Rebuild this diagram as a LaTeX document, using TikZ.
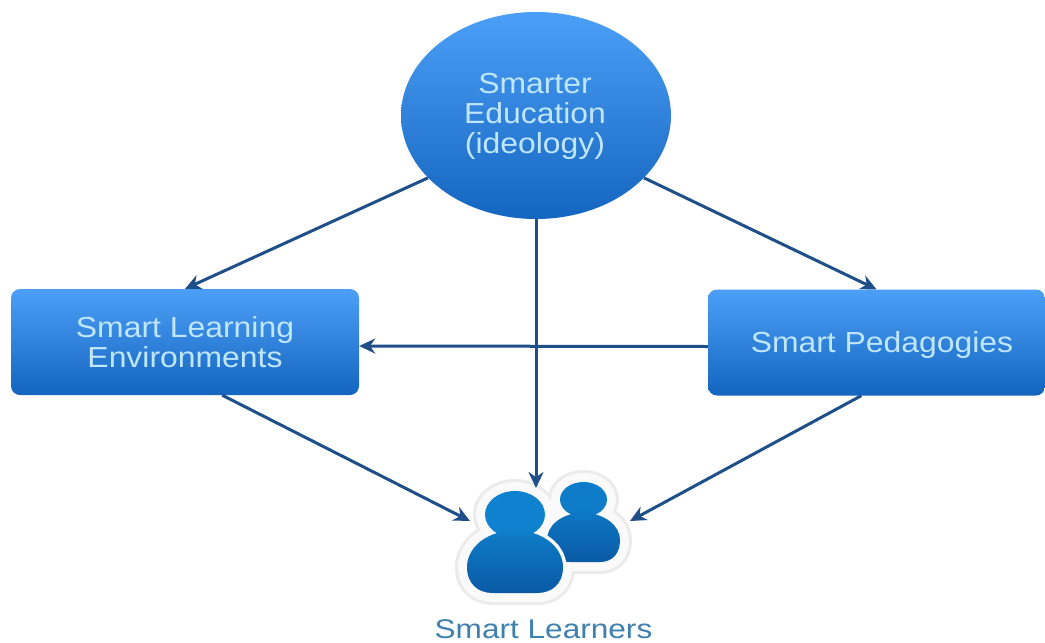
\documentclass[tikz,border=0pt]{standalone}
\usepackage{fontspec}
\setmainfont{Liberation Sans}
\newfontfamily\widefont[FakeStretch=1.10]{Liberation Sans}
\newfontfamily\widerfont[FakeStretch=1.17]{Liberation Sans}
\usetikzlibrary{arrows.meta,shapes.geometric,calc}
\definecolor{topblue}{HTML}{4C9FF6}
\definecolor{botblue}{HTML}{1465BF}
\definecolor{txtlight}{HTML}{BFE6FA}
\definecolor{arrowblue}{HTML}{1F4F88}
\definecolor{haloedge}{HTML}{EBEBEB}
\definecolor{haloin}{HTML}{FAFAFA}
\definecolor{personA}{HTML}{0E82CE}
\definecolor{personB}{HTML}{0B5AA5}
\definecolor{labelblue}{HTML}{3E80AE}
\tikzset{
  blueshape/.style={top color=topblue,bottom color=botblue,draw=none,align=center,text=txtlight,inner sep=0pt,
    font=\widefont\fontsize{29}{30}\selectfont},
  boxshape/.style={blueshape,rectangle,rounded corners=9pt,minimum height=106pt},
  link/.style={draw=arrowblue,line width=3pt,-{Stealth[length=16pt,width=15pt]}},
}
\newcommand{\frontpath}{(515,530) .. controls (480,532) and (467,552) .. (467,567) .. controls (467,584) and (478,593) .. (493,593) -- (537,593) .. controls (552,593) and (563,584) .. (563,567) .. controls (563,552) and (550,532) .. (515,530) -- cycle}
\newcommand{\backpath}{(583,512) .. controls (560,514) and (547,526) .. (547,540) .. controls (547,554) and (558,562) .. (570,562) -- (600,562) .. controls (612,562) and (620,554) .. (620,540) .. controls (620,526) and (606,514) .. (583,512) -- cycle}
\newcommand{\fronthead}{(515,514.5) ellipse [x radius=30,y radius=23.5]}
\newcommand{\backhead}{(583.5,499.5) ellipse [x radius=23.5,y radius=17.5]}
\begin{document}
\begin{tikzpicture}[x=1pt,y=-1pt]
\useasboundingbox (0,0) rectangle (1045,643);
\fill[white] (0,0) rectangle (1045,643);
% icon halo
\path[draw=haloedge,fill=haloedge,line width=24pt,line join=round] \backpath \backhead \frontpath \fronthead;
\path[draw=haloin,fill=haloin,line width=18pt,line join=round] \backpath \backhead \frontpath \fronthead;
% back person
\fill[personA!85!personB] \backhead;
\shade[top color=personA!70!personB,bottom color=personB] \backpath;
\fill[personA!78!personB] (575,510) rectangle (592,520);
% front person with its white edge
\path[draw=haloin,fill=haloin,line width=7pt,line join=round] \frontpath \fronthead;
\fill[personA] \fronthead;
\shade[top color=personA!85!personB,bottom color=personB] \frontpath;
\shade[top color=personA,bottom color=personA!85!personB] (497,528) rectangle (533,535);
\coordinate (iconLeft) at (470,521);
\coordinate (iconTop) at (536,488);
\coordinate (iconRight) at (630,521);
\node[text=labelblue,font=\widerfont\fontsize{27}{30}\selectfont,anchor=base,inner sep=0pt] (learners) at (543.5,638.5) {Smart Learners};
% main nodes
\node[blueshape,ellipse,minimum width=270pt,minimum height=207pt] (edu) at (536,115.5) {};
\node[text=txtlight,font=\widefont\fontsize{29}{30.3}\selectfont,align=center,anchor=center] (edutext) at (535,116.5) {Smarter\\Education\\(ideology)};
\node[boxshape,minimum width=348pt] (sle) at (185,342) {Smart Learning\\Environments};
\node[boxshape,minimum width=337pt] (sp) at (876.5,342.5) {\hspace*{11pt}\raisebox{-2pt}[\height][\depth]{Smart Pedagogies}};
% connectors
\draw[link] (edu.210) -- (sle.north);
\draw[link] (edu.-30) -- (sp.north);
\draw[link] (edu.south) -- (iconTop);
\draw[link] ($(sp.west)+(0,4)$) -- ($(sle.east)+(0,4)$);
\draw[link] (sle.-55) -- (iconLeft);
\draw[link] (sp.-106) -- (iconRight);
\end{tikzpicture}
\end{document}
